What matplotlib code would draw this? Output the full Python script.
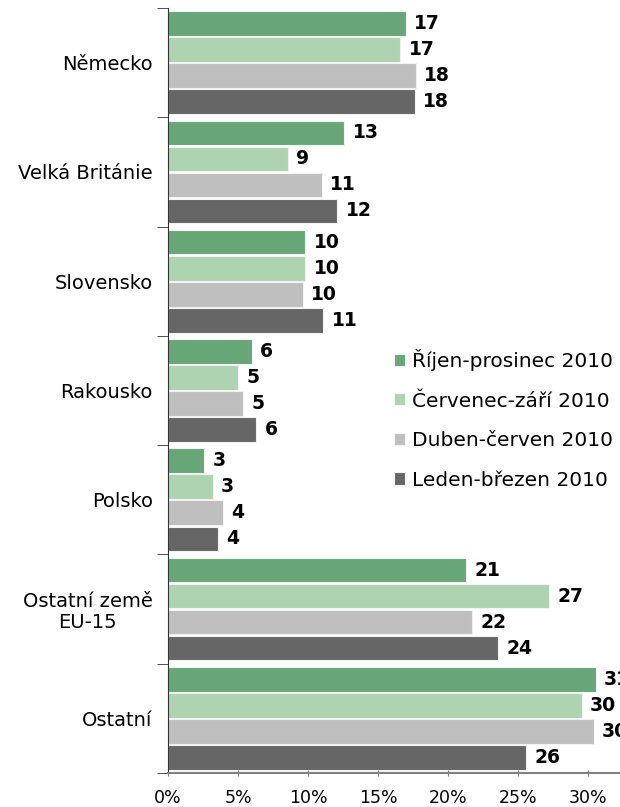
import matplotlib.pyplot as plt
from matplotlib.ticker import FuncFormatter
import numpy as np

plt.rcParams['font.family'] = ['DejaVu Sans']

countries = ["Německo", "Velká Británie", "Slovensko", "Rakousko", "Polsko",
             "Ostatní země\nEU-15", "Ostatní"]
series_names = ["Říjen-prosinec 2010", "Červenec-září 2010",
                "Duben-červen 2010", "Leden-březen 2010"]
colors = ["#66a677", "#aed3b0", "#bfbfbf", "#666666"]

q4 = [17.0, 12.6, 9.8, 6.0, 2.6, 21.3, 30.55]
q3 = [16.6, 8.55, 9.8, 5.0, 3.2, 27.2, 29.55]
q2 = [17.7, 11.0, 9.65, 5.36, 3.9, 21.7, 30.4]
q1 = [17.65, 12.1, 11.1, 6.3, 3.55, 23.6, 25.6]
values = [q4, q3, q2, q1]

fig = plt.figure(figsize=(6.2, 8.07), dpi=100)
ax = fig.add_axes([168 / 620, 34 / 807, 1 - 168 / 620, (773 - 8) / 807])

step = 0.238
height = 0.225
y = np.arange(len(countries))
for j, (vals, col, name) in enumerate(zip(values, colors, series_names)):
    pos = y + (j - 1.5) * step
    bars = ax.barh(pos, vals, height=height, color=col, edgecolor="#f2f2f2",
                   linewidth=0.8, label=name)
    for b, v in zip(bars, vals):
        ax.annotate(f"{v:.0f}", (v, b.get_y() + b.get_height() / 2),
                    xytext=(6, 0), textcoords="offset points",
                    ha="left", va="center", fontsize=13.5, fontweight="bold",
                    annotation_clip=False)

ax.set_ylim(len(countries) - 0.5, -0.5)
ax.set_xlim(0, (620 - 168) / 14)
ax.set_xticks(np.arange(0, 31, 5))
ax.xaxis.set_major_formatter(FuncFormatter(lambda v, p: f"{v:.0f}%"))
ax.tick_params(axis="x", labelsize=12.5, direction="inout", length=5,
               color="#808080", pad=9)

ax.set_yticks(y)
ax.set_yticklabels(countries, fontsize=14)
ax.set_yticks(np.arange(-0.5, len(countries)), minor=True)
ax.tick_params(axis="y", which="major", length=0, pad=11)
ax.tick_params(axis="y", which="minor", length=8, color="#333333")
for lbl in ax.get_yticklabels():
    lbl.set_multialignment("center")
    lbl.set_linespacing(1.1)

ax.spines["top"].set_visible(False)
ax.spines["right"].set_visible(False)
ax.spines["left"].set_color("#333333")
ax.spines["bottom"].set_color("#808080")
ax.spines["bottom"].set_linewidth(1.5)

ax.legend(loc="upper left", bbox_to_anchor=(394 / 620, 1 - 349 / 807),
          bbox_transform=fig.transFigure, frameon=False, fontsize=14.5,
          handlelength=0.55, handleheight=0.55, handletextpad=0.35,
          labelspacing=1.02, borderaxespad=0, borderpad=0)

fig.savefig("out.png", dpi=100)
